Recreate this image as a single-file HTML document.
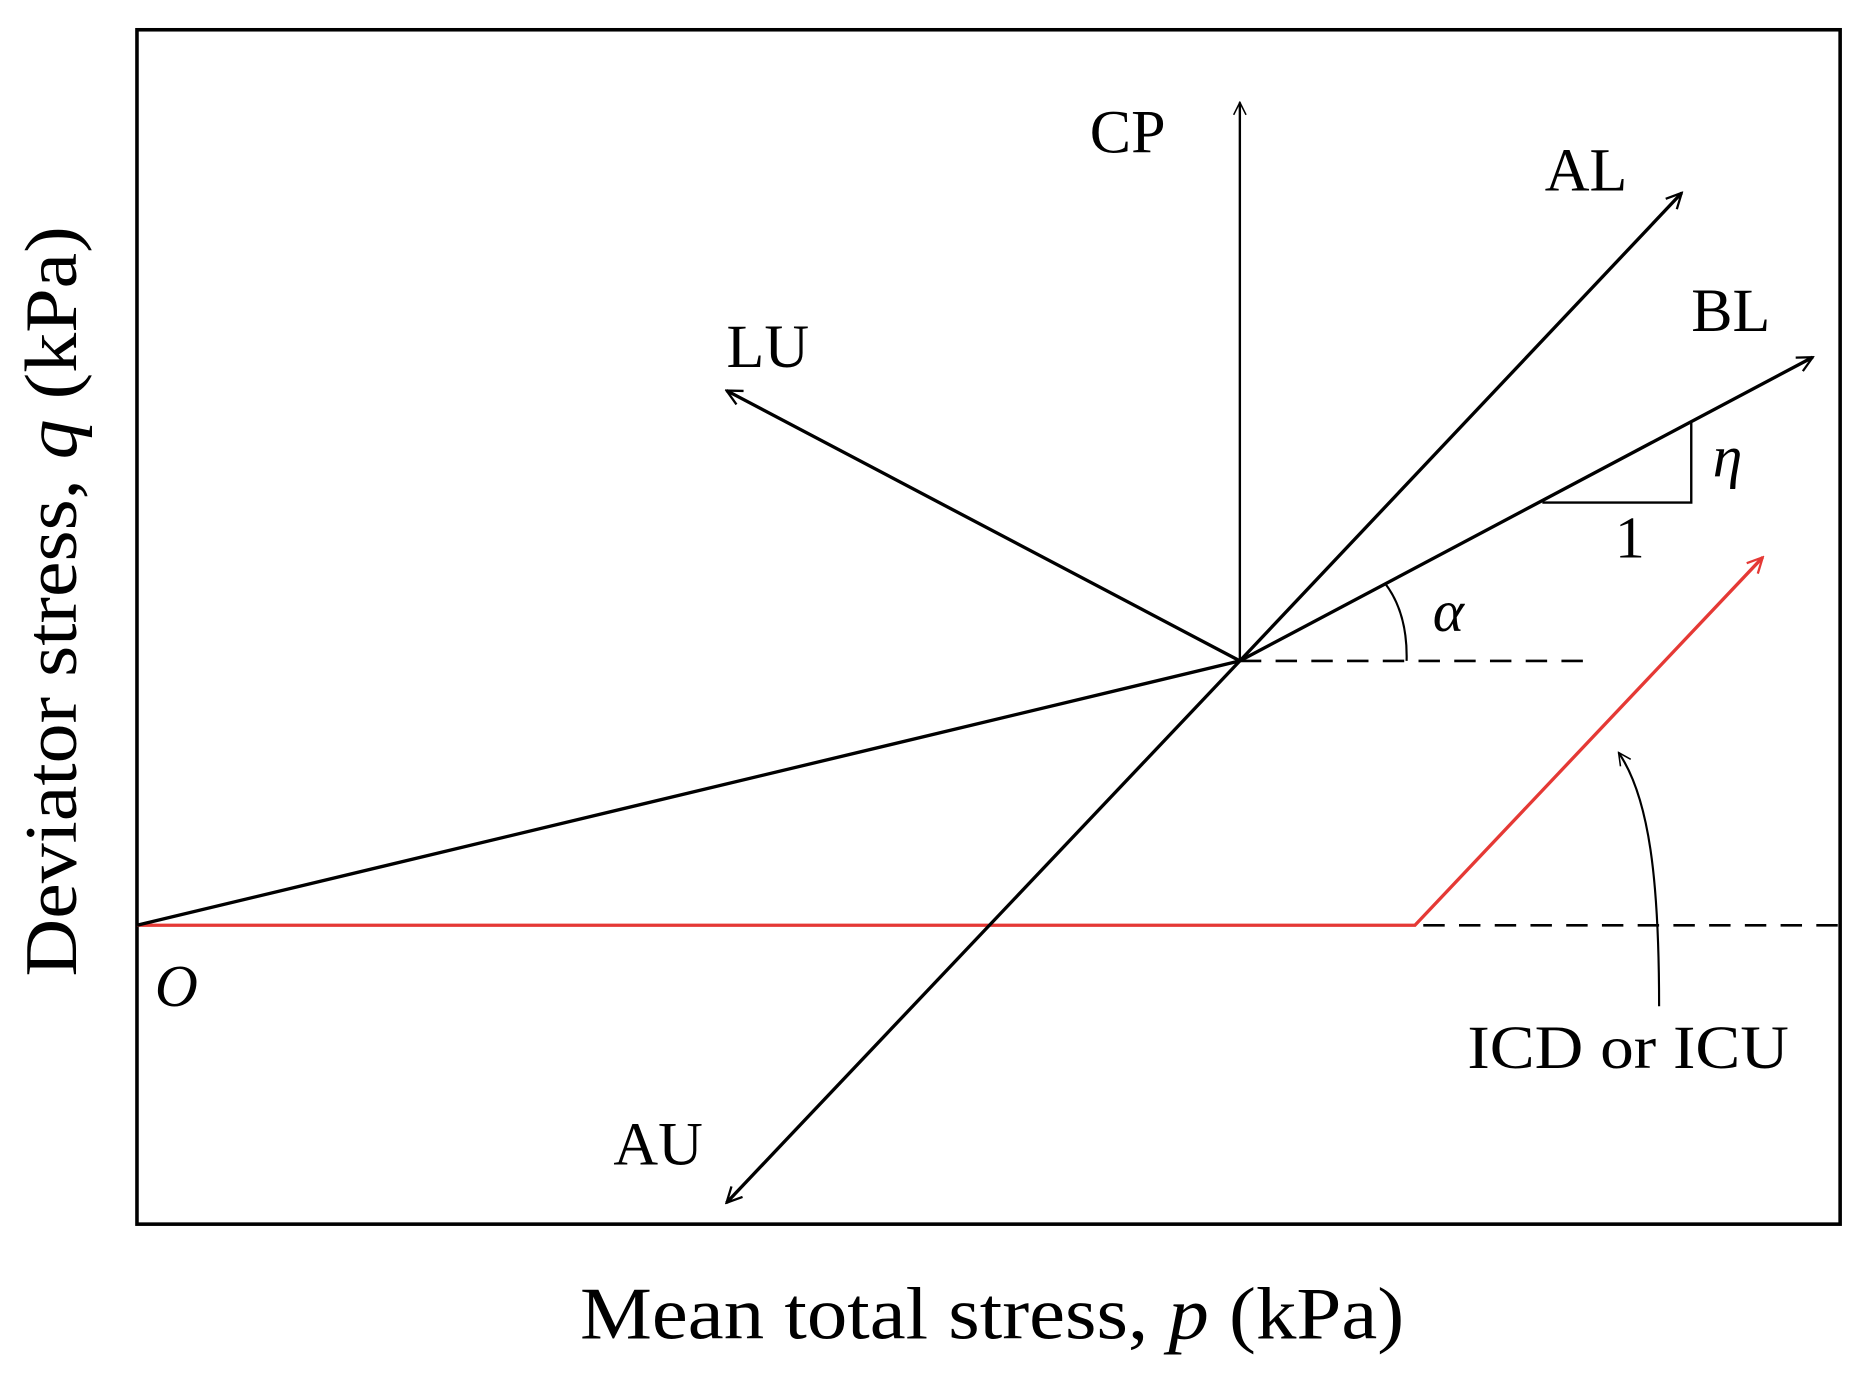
<!DOCTYPE html>
<html><head><meta charset="utf-8"><style>
html,body{margin:0;padding:0;background:#fff;}
svg{display:block;}
text{font-family:"Liberation Serif",serif;fill:#000;}
</style></head><body>
<svg width="1858" height="1373" viewBox="0 0 1560 1153" preserveAspectRatio="none" xmlns="http://www.w3.org/2000/svg">
<defs>
<marker id="ah" viewBox="0 0 20 20" refX="18" refY="10" markerWidth="16" markerHeight="16" markerUnits="userSpaceOnUse" orient="auto">
<path d="M2,2 L18,10 L2,18" fill="none" stroke="#000" stroke-width="2.4"/>
</marker>
<marker id="ahr" viewBox="0 0 20 20" refX="18" refY="10" markerWidth="16" markerHeight="16" markerUnits="userSpaceOnUse" orient="auto">
<path d="M2,2 L18,10 L2,18" fill="none" stroke="#e53935" stroke-width="2.4"/>
</marker>
<marker id="ahs" viewBox="0 0 20 20" refX="18" refY="10" markerWidth="13" markerHeight="13" markerUnits="userSpaceOnUse" orient="auto">
<path d="M2,2 L18,10 L2,18" fill="none" stroke="#000" stroke-width="2"/>
</marker>
</defs>
<rect x="115" y="25" width="1430" height="1003" fill="none" stroke="#000" stroke-width="3"/>
<line x1="1041" y1="555" x2="1335" y2="555" stroke="#000" stroke-width="2.2" stroke-dasharray="18,12"/>
<line x1="1195" y1="777" x2="1545" y2="777" stroke="#000" stroke-width="2.2" stroke-dasharray="18,12"/>
<polyline points="115,777 1188,777 1480,468" fill="none" stroke="#e53935" stroke-width="2.8" marker-end="url(#ahr)"/>
<line x1="115" y1="777" x2="1041" y2="555" stroke="#000" stroke-width="2.8"/>
<line x1="1041" y1="555" x2="1041" y2="86" stroke="#000" stroke-width="2" marker-end="url(#ahs)"/>
<line x1="1041" y1="555" x2="1412" y2="162" stroke="#000" stroke-width="2.8" marker-end="url(#ah)"/>
<line x1="1041" y1="555" x2="610" y2="1010" stroke="#000" stroke-width="2.8" marker-end="url(#ah)"/>
<line x1="1041" y1="555" x2="1522" y2="300" stroke="#000" stroke-width="2.8" marker-end="url(#ah)"/>
<line x1="1041" y1="555" x2="610" y2="328" stroke="#000" stroke-width="2.8" marker-end="url(#ah)"/>
<polyline points="1295,422 1420,422 1420,354" fill="none" stroke="#000" stroke-width="2"/>
<path d="M1163,490 Q1182,515 1181,555" fill="none" stroke="#000" stroke-width="1.8"/>
<path d="M1393,845 C1393,740 1385,670 1359,632" fill="none" stroke="#000" stroke-width="1.8" marker-end="url(#ahs)"/>
<text x="915" y="128" font-size="52">CP</text>
<text x="1297" y="160" font-size="52">AL</text>
<text x="1420" y="278" font-size="52">BL</text>
<text x="610" y="308" font-size="52">LU</text>
<text x="1438" y="400" font-size="50" font-style="italic">η</text>
<text x="1356" y="468" font-size="50">1</text>
<text x="1203" y="530" font-size="50" font-style="italic">α</text>
<text x="130" y="845" font-size="50" font-style="italic">O</text>
<text x="1232" y="897" font-size="52" textLength="270" lengthAdjust="spacingAndGlyphs">ICD or ICU</text>
<text x="515" y="978" font-size="52">AU</text>
<text x="487" y="1124" font-size="62" textLength="692" lengthAdjust="spacingAndGlyphs">Mean total stress, <tspan font-style="italic">p</tspan> (kPa)</text>
<text transform="translate(64,820) rotate(-90)" font-size="62" textLength="630" lengthAdjust="spacingAndGlyphs">Deviator stress, <tspan font-style="italic">q</tspan> (kPa)</text>
</svg>
</body></html>
